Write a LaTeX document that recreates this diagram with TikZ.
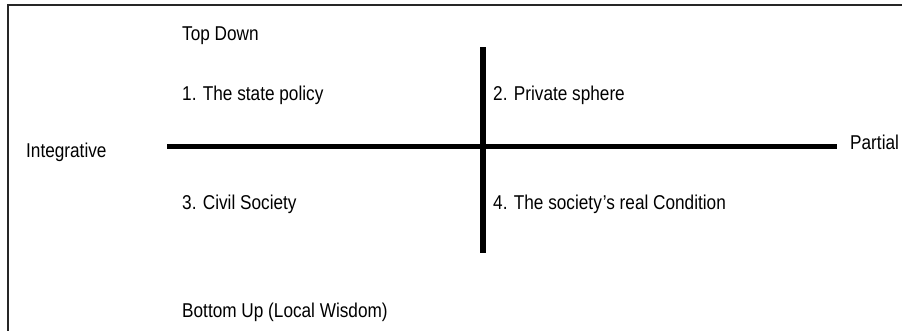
\documentclass[tikz,border=0pt]{standalone}
\usepackage{fontspec}
\setmainfont{Liberation Sans}[FakeStretch=0.86]
\usepackage{tikz}
\tikzset{
  label/.style={
    anchor=base west,
    inner sep=0pt,
    font=\fontsize{20}{23}\selectfont,
  },
  axis/.style={
    line width=5.5pt,
    line cap=butt,
  },
  frame/.style={
    draw=black!85, line width=2pt,
  },
}

\begin{document}
\begin{tikzpicture}[x=1pt,y=-1pt]
    \useasboundingbox (0,0) rectangle (902,330);
    \draw[frame] (8,331) -- (8,5) -- (903,5);

    \coordinate (W) at (167,146.5);
    \coordinate (E) at (837,146.5);
    \coordinate (N) at (483,47);
    \coordinate (S) at (483,253);
    \draw[axis] (W) -- (E);
    \draw[axis] (N) -- (S);

    \node[label] (top) at (182,40) {Top Down};
    \node[label] (bottom) at (182,317) {Bottom Up (Local Wisdom)};
    \node[label] (integ) at (26,157) {Integrative};
    \node[label] (partial) at (850,149) {Partial};

    \node[label] (q1) at (182,100) {1. The state policy};
    \node[label] (q2) at (493,100) {2. Private sphere};
    \node[label] (q3) at (182,209) {3. Civil Society};
    \node[label] (q4) at (493,209) {4. The society{\kern1pt}’s real Condition};
  \end{tikzpicture}
\end{document}
